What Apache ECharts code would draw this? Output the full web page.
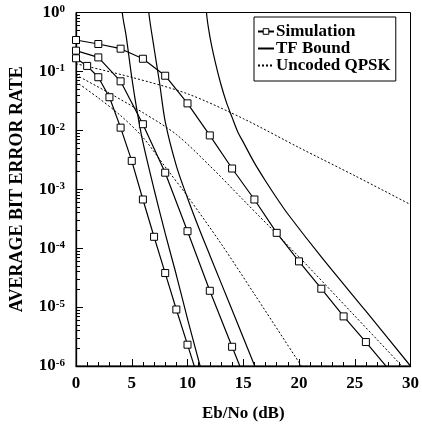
<!DOCTYPE html>
<html><head><meta charset="utf-8">
<script src="https://cdn.jsdelivr.net/npm/echarts@6/dist/echarts.min.js"></script>
<style>html,body{margin:0;padding:0;background:#fff}#c{width:422px;height:428px}</style>
</head><body><div id="c"></div>
<script>
// ---- Simulation curves (Eb/No in dB, BER) ----
const simEbNoA = [0, 2, 4, 6, 8, 10, 12, 14, 16, 18, 20, 22, 24, 26, 28];
const simBerA  = [0.341, 0.292, 0.243, 0.164, 0.0845, 0.0287, 8.2e-3, 2.25e-3, 6.7e-4, 1.82e-4, 5.97e-5, 2.05e-5, 6.95e-6, 2.55e-6, 9.0e-7];
const simEbNoB = [0, 2, 4, 6, 8, 10, 12, 14, 16];
const simBerB  = [0.225, 0.173, 0.0679, 0.0127, 1.91e-3, 1.94e-4, 1.89e-5, 2.12e-6, 2.4e-7];
const simEbNoC = [0, 1, 2, 3, 4, 5, 6, 7, 8, 9, 10, 11];
const simBerC  = [0.167, 0.124, 0.0797, 0.0365, 0.0111, 3.03e-3, 6.7e-4, 1.56e-4, 3.78e-5, 9.1e-6, 2.3e-6, 5.8e-7];

// ---- TF bound curves ----
const tfEbNo1 = [4.0, 4.15, 4.5, 5, 5.5, 6, 7, 8, 9, 10, 11.13, 11.6];
const tfBer1  = [5, 1, 0.398, 0.0794, 0.02, 6.3e-3, 1.0e-3, 1.78e-4, 3.5e-5, 6.3e-6, 1.0e-6, 4.6e-7];
const tfEbNo2 = [6.4, 6.53, 7, 7.5, 8, 9, 10, 11, 12, 14, 16.03, 17];
const tfBer2  = [3, 1, 0.25, 0.063, 0.0141, 2.5e-3, 7.1e-4, 2.24e-4, 7.6e-5, 8.9e-6, 1.0e-6, 3.5e-7];
const tfEbNo3 = [11.6, 11.7, 12, 12.5, 13, 13.5, 14, 14.5, 15, 16, 17, 18, 19, 22, 26, 30];
const tfBer3  = [3, 1, 0.398, 0.141, 0.060, 0.0295, 0.0166, 9.5e-3, 6.3e-3, 2.8e-3, 1.38e-3, 7.1e-4, 3.8e-4, 7.1e-5, 8.5e-6, 1.0e-6];

// ---- Uncoded QPSK curves ----
const qpskEbNo1 = [0, 5, 10, 15, 20, 25, 30];
const qpskBer1  = [0.135, 0.0794, 0.0417, 0.0158, 5.1e-3, 1.7e-3, 5.5e-4];
const qpskEbNo2 = [0, 3, 6, 9, 12, 15, 20, 25, 30];
const qpskBer2  = [0.087, 0.0427, 0.02, 8.5e-3, 2.5e-3, 6.6e-4, 7.1e-5, 7.1e-6, 7.0e-7];
const qpskEbNo3 = [0, 2, 4, 6, 8, 10, 13, 16, 21];
const qpskBer3  = [0.0668, 0.0355, 0.0178, 7.6e-3, 2.4e-3, 7.6e-4, 1.2e-4, 1.66e-5, 5.9e-7];

// ---- Axis ticks ----
const xTickLabels = ['0', '5', '10', '15', '20', '25', '30'];
const yDecades = [1e-6, 1e-5, 1e-4, 1e-3, 1e-2, 1e-1, 1];

const FONT = 'Liberation Serif';
const zip = (xs, ys) => xs.map((x, i) => [x, ys[i]]);
const yMinor = [];
yDecades.slice(0, -1).forEach(d => { for (let m = 2; m <= 9; m++) yMinor.push(+(m * d).toPrecision(3)); });

function simSeries(xs, ys) {
  return { name: 'Simulation', type: 'line', data: zip(xs, ys), symbol: 'rect', symbolSize: 7,
    itemStyle: { color: '#fff', borderColor: '#000', borderWidth: 1 },
    lineStyle: { color: '#000', width: 1.2 }, clip: true, animation: false, z: 5 };
}
function tfSeries(xs, ys) {
  return { name: 'TF Bound', type: 'line', data: zip(xs, ys), symbol: 'none', smooth: 0.3,
    itemStyle: { color: '#000' }, lineStyle: { color: '#000', width: 1.2 }, clip: true, animation: false };
}
function qpskSeries(xs, ys) {
  return { name: 'Uncoded QPSK', type: 'line', data: zip(xs, ys), symbol: 'none', smooth: 0.3,
    itemStyle: { color: '#000' }, lineStyle: { color: '#000', width: 1, type: [2, 2] }, clip: true, animation: false };
}

const chart = echarts.init(document.getElementById('c'), null, { renderer: 'canvas' });
chart.setOption({
  animation: false,
  backgroundColor: '#fff',
  grid: { left: 76, right: 9, top: 12.5, bottom: 62, show: true, borderColor: '#000', borderWidth: 1, backgroundColor: 'transparent' },
  legend: {
    data: [
      { name: 'Simulation', itemStyle: { color: '#fff', borderColor: '#000', borderWidth: 1 } },
      { name: 'TF Bound', itemStyle: { opacity: 0 } },
      { name: 'Uncoded QPSK', itemStyle: { opacity: 0 } }
    ],
    orient: 'vertical', left: 254, top: 17,
    backgroundColor: '#fff', borderColor: '#000', borderWidth: 1, padding: [6, 5, 7, 3],
    itemWidth: 16, itemHeight: 7, itemGap: 0,
    textStyle: { fontFamily: FONT, fontWeight: 'bold', fontSize: 17, lineHeight: 17, color: '#000', padding: [0, 0, 0, -3] }
  },
  xAxis: {
    type: 'value', min: 0, max: 30, interval: 5,
    name: 'Eb/No (dB)', nameLocation: 'middle', nameGap: 39,
    nameTextStyle: { fontFamily: FONT, fontWeight: 'bold', fontSize: 17, color: '#000' },
    axisLine: { lineStyle: { color: '#000', width: 1.3 } },
    axisTick: { inside: true, length: 7, lineStyle: { color: '#000' } },
    minorTick: { show: true, splitNumber: 5, length: 4, lineStyle: { color: '#000' } },
    splitLine: { show: false },
    axisLabel: { margin: 9, fontFamily: FONT, fontWeight: 'bold', fontSize: 17, color: '#000',
      formatter: v => xTickLabels[Math.round(v / 5)] }
  },
  yAxis: [{
    type: 'log', logBase: 10, min: 1e-6, max: 1,
    name: 'AVERAGE BIT ERROR RATE', nameLocation: 'middle', nameGap: 50,
    nameTextStyle: { fontFamily: FONT, fontWeight: 'bold', fontSize: 18, color: '#000' },
    axisLine: { show: true, lineStyle: { color: '#000', width: 1.3 } },
    axisTick: { inside: true, length: 7, customValues: yDecades, lineStyle: { color: '#000' } },
    splitLine: { show: false },
    axisLabel: { margin: 11, customValues: yDecades,
      formatter: v => '{b|10}{s|' + Math.round(Math.log10(v)) + '}',
      rich: {
        b: { fontFamily: FONT, fontWeight: 'bold', fontSize: 17, color: '#000', verticalAlign: 'bottom' },
        s: { fontFamily: FONT, fontWeight: 'bold', fontSize: 11, color: '#000', verticalAlign: 'top' }
      } }
  }, {
    type: 'log', logBase: 10, min: 1e-6, max: 1, position: 'left',
    axisLine: { show: false },
    axisTick: { show: true, inside: true, length: 4, customValues: yMinor, lineStyle: { color: '#000' } },
    axisLabel: { show: false }, splitLine: { show: false }
  }],
  series: [
    simSeries(simEbNoA, simBerA), simSeries(simEbNoB, simBerB), simSeries(simEbNoC, simBerC),
    tfSeries(tfEbNo1, tfBer1), tfSeries(tfEbNo2, tfBer2), tfSeries(tfEbNo3, tfBer3),
    qpskSeries(qpskEbNo1, qpskBer1), qpskSeries(qpskEbNo2, qpskBer2), qpskSeries(qpskEbNo3, qpskBer3)
  ]
});
</script></body></html>
